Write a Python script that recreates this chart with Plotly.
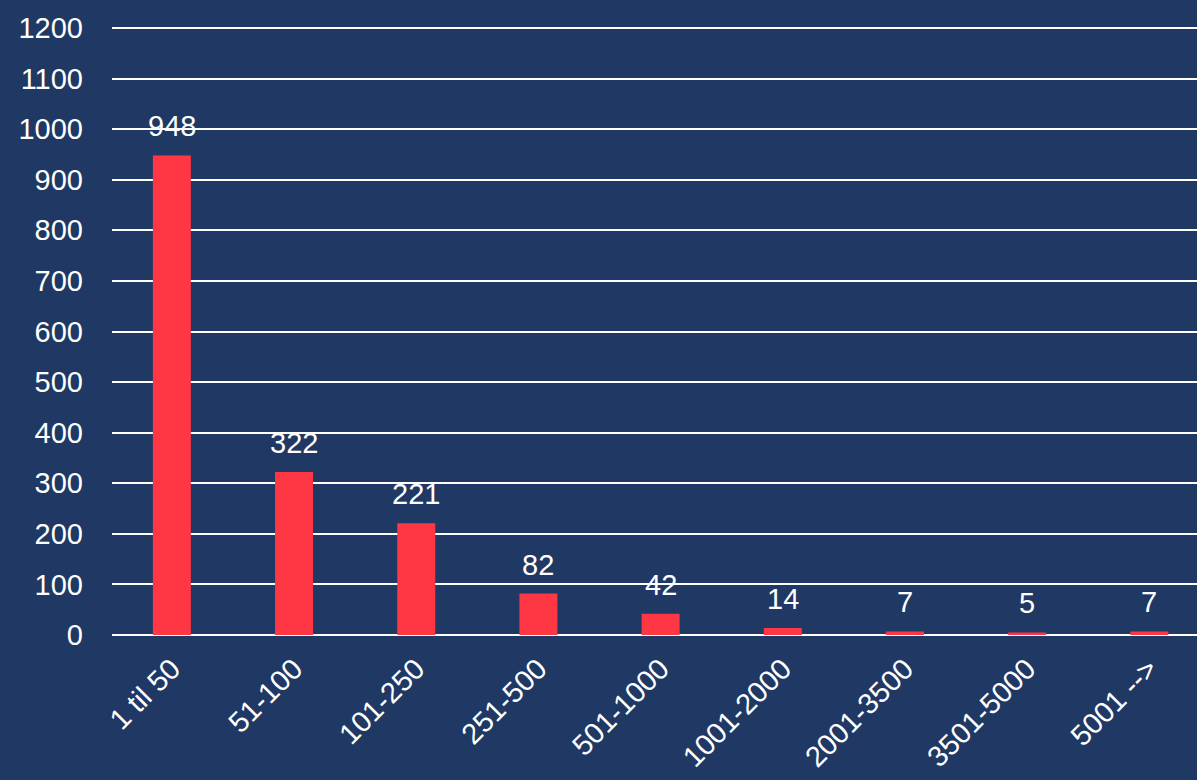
import plotly.graph_objects as go

categories = ["1 til 50", "51-100", "101-250", "251-500", "501-1000",
              "1001-2000", "2001-3500", "3501-5000", "5001 -->"]
values = [948, 322, 221, 82, 42, 14, 7, 5, 7]
y_ticks = list(range(0, 1201, 100))

BG = "#203864"
RED = "#FF3744"
FONT = "Liberation Sans, Arial, sans-serif"
FS = 29

fig = go.Figure()
fig.add_trace(go.Bar(x=categories, y=values, marker_color=RED,
                     marker_line_width=0, hoverinfo="skip"))

for c, v in zip(categories, values):
    fig.add_annotation(x=c, y=v, text=str(v), showarrow=False,
                       yanchor="middle", yshift=29,
                       font=dict(family=FONT, size=FS, color="white"))

fig.update_layout(
    width=1197, height=780,
    paper_bgcolor=BG, plot_bgcolor=BG,
    margin=dict(l=112, r=0, t=27, b=145),
    bargap=0.689,
    showlegend=False,
    font=dict(family=FONT, size=FS, color="white"),
)
fig.update_yaxes(range=[0, 1202], tickvals=y_ticks, showgrid=True,
                 gridcolor="white", gridwidth=2, zeroline=True,
                 zerolinecolor="white", zerolinewidth=2,
                 showline=False, ticklabelstandoff=28,
                 tickfont=dict(family=FONT, size=FS, color="white"))
fig.update_xaxes(tickangle=-45, showgrid=False, showline=False,
                 range=[-0.49, 8.39], ticklabelstandoff=10,
                 tickfont=dict(family=FONT, size=FS, color="white"))

fig.write_html("out.html", config={"displayModeBar": False},
               post_script="document.body.style.margin='0';document.body.style.background='" + BG + "';")
